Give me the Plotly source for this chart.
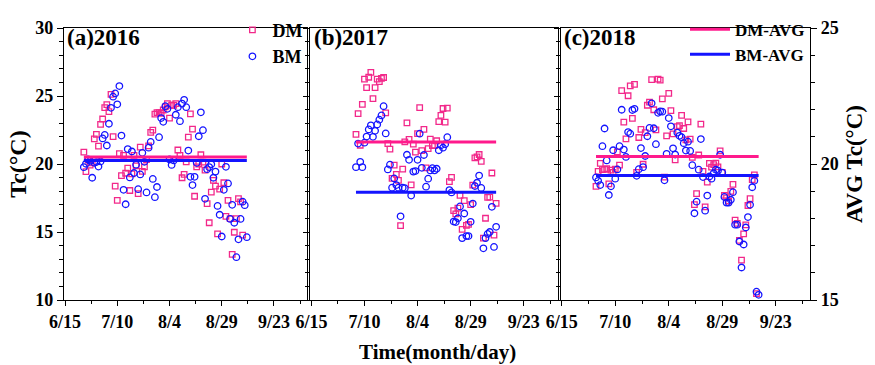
import plotly.graph_objects as go

# ---------------- data ----------------
# day offsets are counted from June 15 (day 0); series are daily values
tick_days = [0, 25, 50, 75, 100]
tick_labels = ["6/15", "7/10", "8/4", "8/29", "9/23"]

start_2016 = 9    # 6/24
start_2017 = 21   # 7/6
start_2018 = 16   # 7/1

dm_2016 = [20.87, 19.44, 20.28, 19.91, 20.09, 21.85, 22.18, 21.31, 22.91, 23.31, 24.15, 24.37, 23.85,
           25.12, 22.02, 18.38, 17.32, 20.77, 19.15, 20.63, 19.32, 19.69, 18.05, 19.27, 20.63, 19.86,
           17.82, 21.24, 19.46, 19.79, 20.33, 21.34, 22.32, 22.49, 23.66, 23.78, 23.78, 23.73, 23.97,
           24.20, 24.44, 23.38, 24.32, 24.32, 24.44, 21.03, 20.63, 18.99, 19.23, 20.16, 21.97, 23.69,
           22.56, 17.63, 19.79, 20.00, 20.68, 20.14, 19.55, 17.09, 15.68, 17.93, 18.80, 18.38, 14.86,
           18.15, 20.00, 18.62, 16.15, 17.32, 15.99, 13.36, 14.98, 15.99, 17.46, 17.21, 14.77]
bm_2016 = [19.77, 20.02, 20.33, 20.23, 18.99, 20.09, 20.14, 19.81, 20.19, 21.88, 22.14, 21.36, 22.96,
           24.13, 24.95, 25.19, 24.39, 25.73, 22.09, 18.10, 17.04, 21.10, 19.01, 20.92, 19.34, 19.95,
           18.15, 19.23, 20.82, 20.16, 17.91, 21.20, 21.62, 18.90, 17.56, 18.31, 21.97, 23.38, 23.10,
           24.25, 24.06, 20.33, 19.93, 20.26, 23.62, 24.18, 23.15, 24.44, 24.72, 24.18, 20.99, 19.06,
           18.45, 19.06, 20.09, 22.04, 23.80, 22.49, 17.44, 19.62, 19.77, 19.98, 18.99, 19.44, 16.92,
           16.27, 14.67, 18.10, 19.79, 18.57, 15.96, 17.00, 15.68, 13.15, 14.46, 15.96, 17.23, 16.97,
           14.62]

dm_2017 = [22.18, 23.71, 21.38, 24.39, 26.24, 25.61, 26.38, 26.74, 24.81, 25.61, 26.24, 26.06, 26.29,
           26.36, 23.76, 21.50, 21.10, 18.94, 19.91, 19.23, 18.80, 15.47, 19.62, 21.62, 23.03, 21.81,
           18.47, 21.46, 20.87, 22.23, 24.15, 20.99, 22.54, 19.72, 21.13, 21.83, 21.36, 21.36, 21.71,
           23.12, 23.57, 24.08, 23.08, 24.11, 18.71, 19.01, 16.57, 16.34, 16.76, 17.70, 15.19, 17.30,
           15.49, 15.56, 17.02, 18.45, 20.45, 20.52, 20.70, 20.19, 14.55, 16.01, 17.54, 17.56, 19.34,
           14.77, 17.11]
bm_2017 = [19.77, 21.50, 20.16, 19.77, 21.57, 22.02, 22.54, 22.84, 22.00, 22.44, 22.91, 23.26, 23.57,
           24.25, 22.25, 19.60, 19.95, 18.26, 18.94, 18.45, 18.26, 16.15, 18.26, 18.22, 20.68, 20.31,
           17.68, 19.44, 19.48, 20.31, 22.23, 19.72, 20.66, 18.33, 18.92, 19.53, 19.69, 19.53, 19.65,
           21.01, 21.38, 21.20, 21.46, 21.97, 18.08, 17.91, 15.77, 15.73, 16.01, 16.88, 14.55, 16.36,
           14.70, 14.70, 15.75, 17.09, 18.38, 18.62, 19.15, 18.24, 13.80, 14.55, 14.86, 15.00, 16.85,
           13.90, 15.38]

dm_2018 = [18.36, 19.46, 20.05, 19.58, 19.60, 19.65, 18.54, 19.55, 19.39, 19.62, 20.89, 19.91, 25.40,
           23.08, 21.85, 25.02, 25.75, 23.36, 25.85, 19.39, 21.95, 22.54, 19.98, 22.30, 24.32, 24.55,
           26.20, 23.99, 22.51, 26.24, 26.17, 24.79, 19.04, 22.07, 25.19, 23.92, 22.21, 20.31, 22.75,
           22.82, 23.57, 22.61, 21.78, 23.10, 21.83, 20.49, 17.02, 17.82, 20.66, 22.93, 19.46, 16.85,
           18.66, 20.05, 19.77, 19.95, 20.07, 19.79, 20.96, 19.39, 17.70, 17.51, 17.28, 17.98, 18.50,
           15.87, 15.63, 14.39, 12.93, 14.86, 15.52, 16.95, 17.46, 18.85, 19.20, 10.47]
bm_2018 = [19.01, 18.76, 18.45, 21.31, 22.61, 20.26, 17.72, 18.36, 21.01, 18.92, 19.60, 21.31, 23.99,
           21.06, 20.52, 22.35, 22.23, 23.97, 24.06, 19.13, 19.62, 21.17, 19.77, 20.59, 22.04, 22.65,
           24.46, 22.63, 21.46, 23.76, 23.87, 23.85, 18.80, 20.75, 23.38, 22.77, 21.15, 20.70, 22.30,
           22.07, 21.97, 21.53, 20.99, 21.64, 20.96, 19.91, 16.38, 17.23, 19.58, 21.83, 19.04, 16.57,
           17.68, 19.08, 18.92, 19.32, 19.58, 19.51, 20.68, 19.37, 17.58, 17.16, 17.16, 17.37, 17.93,
           15.54, 15.54, 14.30, 12.39, 14.08, 15.33, 16.10, 17.00, 18.29, 18.76, 10.61, 10.38]

# averages (2016, 2017 read on left axis; 2018 on right "AVG" axis)
dm_avg = [20.52, 21.62, 20.28]
bm_avg = [20.26, 17.93, 19.58]

panel_titles = ["(a)2016", "(b)2017", "(c)2018"]

# ---------------- figure ----------------
PINK = "#F2288A"
LINEPINK = "#FF1A8C"
BLUE = "#1414FF"
FONT = "Liberation Serif"

fig = go.Figure()

panels = [
    (start_2016, dm_2016, bm_2016),
    (start_2017, dm_2017, bm_2017),
    (start_2018, dm_2018, bm_2018),
]
xaxes = ["x", "x2", "x3"]
yaxes = ["y", "y2", "y3"]

for i, (st, dm, bm) in enumerate(panels):
    dm_days = [st + k for k in range(len(dm))]
    bm_days = [st + k for k in range(len(bm))]
    fig.add_trace(go.Scatter(x=dm_days, y=dm, mode="markers", name="DM",
                             marker=dict(symbol="square-open", size=5.5, color=PINK, line=dict(width=1.3)),
                             xaxis=xaxes[i], yaxis=yaxes[i], showlegend=(i == 0), legend="legend"))
    fig.add_trace(go.Scatter(x=bm_days, y=bm, mode="markers", name="BM",
                             marker=dict(symbol="circle-open", size=6.5, color=BLUE, line=dict(width=1.3)),
                             xaxis=xaxes[i], yaxis=yaxes[i], showlegend=(i == 0), legend="legend"))
    first = min(dm_days[0], bm_days[0])
    last = max(dm_days[-1], bm_days[-1])
    ya = "y4" if i == 2 else yaxes[i]
    fig.add_trace(go.Scatter(x=[first, last], y=[dm_avg[i], dm_avg[i]], mode="lines", name="DM-AVG",
                             line=dict(color=LINEPINK, width=3), xaxis=xaxes[i], yaxis=ya,
                             showlegend=(i == 2), legend="legend2"))
    fig.add_trace(go.Scatter(x=[first, last], y=[bm_avg[i], bm_avg[i]], mode="lines", name="BM-AVG",
                             line=dict(color=BLUE, width=3), xaxis=xaxes[i], yaxis=ya,
                             showlegend=(i == 2), legend="legend2"))

domains = [[0.0, 0.3263], [0.3302, 0.6618], [0.6658, 1.0]]

xcommon = dict(range=[-0.5, 116], tickmode="array", tickvals=tick_days, ticktext=tick_labels,
               ticks="outside", ticklen=5, tickwidth=1, tickcolor="black",
               minor=dict(tickmode="linear", tick0=0, dtick=12.5, ticks="outside", ticklen=3,
                          tickcolor="black"),
               showline=True, linecolor="black", linewidth=1.3, mirror=True, showgrid=False,
               zeroline=False, tickfont=dict(size=18, family=FONT, color="black"))
ycommon = dict(range=[10, 30], tickmode="linear", tick0=10, dtick=5,
               ticks="outside", ticklen=6, tickwidth=1, tickcolor="black",
               minor=dict(tickmode="linear", tick0=10, dtick=1, ticks="outside", ticklen=4,
                          tickcolor="black"),
               showline=True, linecolor="black", linewidth=1.3, mirror=True, showgrid=False,
               zeroline=False, tickfont=dict(size=18, family=FONT, color="black"))

layout = dict(
    width=875, height=365,
    margin=dict(l=64, r=57, t=16, b=65),
    paper_bgcolor="white", plot_bgcolor="white",
    font=dict(family=FONT, size=18, color="black", weight="bold"),
    showlegend=True,
)
for i in range(3):
    key = "xaxis" if i == 0 else f"xaxis{i+1}"
    layout[key] = dict(xcommon, domain=domains[i], anchor=yaxes[i])
    ykey = "yaxis" if i == 0 else f"yaxis{i+1}"
    layout[ykey] = dict(ycommon, domain=[0, 1], anchor=xaxes[i], showticklabels=(i == 0))
layout["yaxis"]["title"] = dict(text="Tc(°C)", font=dict(size=24, family=FONT), standoff=1)
layout["yaxis4"] = dict(range=[15, 25], overlaying="y3", side="right", anchor="x3",
                        tickmode="linear", tick0=15, dtick=5,
                        ticks="outside", ticklen=6, tickwidth=1, tickcolor="black",
                        minor=dict(tickmode="linear", tick0=15, dtick=1, ticks="outside", ticklen=4,
                                   tickcolor="black"),
                        showline=True, linecolor="black", linewidth=1.3, showgrid=False, zeroline=False,
                        tickfont=dict(size=18, family=FONT, color="black"),
                        title=dict(text="AVG Tc(°C)", font=dict(size=23, family=FONT), standoff=8))
layout["legend"] = dict(x=0.3263, xanchor="right", y=1.06, yanchor="top", bgcolor="rgba(0,0,0,0)",
                        font=dict(size=18, family=FONT, color="black", weight="bold"),
                        itemwidth=30, tracegroupgap=0)
layout["legend2"] = dict(x=1.0, xanchor="right", y=1.06, yanchor="top", bgcolor="rgba(0,0,0,0)",
                         font=dict(size=17, family=FONT, color="black", weight="bold"),
                         itemwidth=40, tracegroupgap=0)

fig.update_layout(**layout)

for i, t in enumerate(panel_titles):
    fig.add_annotation(text=t, xref=f"{xaxes[i]} domain", yref=f"{yaxes[i]} domain",
                       x=0.005, y=1.02, xanchor="left", yanchor="top", showarrow=False,
                       font=dict(size=23, family=FONT, color="black", weight="bold"))

fig.add_annotation(text="Time(month/day)", xref="paper", yref="paper", x=0.5, y=-0.14,
                   xanchor="center", yanchor="top", showarrow=False,
                   font=dict(size=21, family=FONT, color="black", weight="bold"))

fig.write_html("out.html")
